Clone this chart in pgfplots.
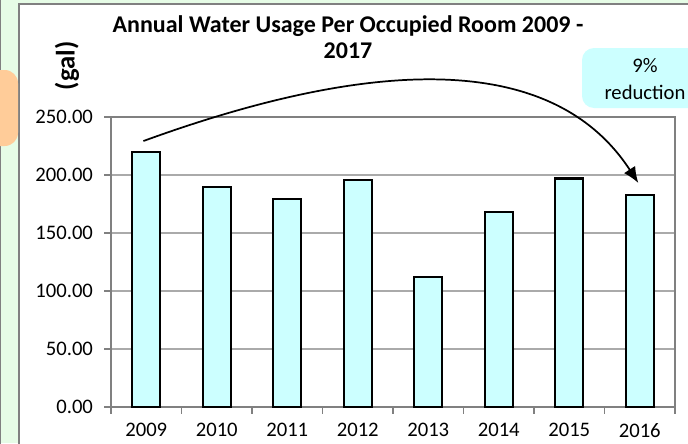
\documentclass[border=0pt]{standalone}
\usepackage{pgfplots}
\pgfplotsset{compat=1.18}
\usepackage{fontspec}
\setmainfont{Carlito}
\usetikzlibrary{arrows.meta}
\definecolor{bgGreen}{RGB}{230,252,230}
\definecolor{barCyan}{RGB}{204,255,255}
\definecolor{boxOrange}{RGB}{255,204,153}
\definecolor{frameGray}{RGB}{128,128,128}
\definecolor{gridGray}{RGB}{170,170,170}
\pgfplotstableread{
x year value
0 2009 220
1 2010 190
2 2011 179
3 2012 196
4 2013 112
5 2014 168
6 2015 197
7 2016 183
}\usagedata
\begin{document}
\begin{tikzpicture}
\useasboundingbox (0,0) rectangle (516pt,-332.25pt);
\clip (0,0) rectangle (516pt,-332.25pt);
\begin{scope}[x=0.75pt,y=-0.75pt]
  \fill[bgGreen] (0,0) rectangle (688,443);
  \draw[frameGray, line width=0.8pt] (0.5,-5) -- (0.5,450);
  \fill[white] (19,4) rectangle (700,450);
  \draw[frameGray, line width=1.2pt] (19,450) -- (19,4) -- (700,4);
  \fill[boxOrange, rounded corners=10pt] (-20,70) rectangle (18,146);
  \node[font=\fontsize{18}{19.5}\selectfont\bfseries, align=center] at (348,37) {Annual Water Usage Per Occupied Room 2009 -\\2017};
  \node[font=\fontsize{20}{22}\selectfont\bfseries, rotate=90] at (67,66) {(gal)};
  \fill[barCyan, rounded corners=9pt] (582,48) rectangle (710,108);
  \node[font=\fontsize{15.5}{20}\selectfont, align=center] at (645,79) {9\%\\reduction};
\end{scope}
\begin{axis}[
  at={(83.25pt,-305.25pt)}, anchor=south west,
  scale only axis, width=423pt, height=217.5pt,
  xmin=-0.5, xmax=7.5, ymin=0, ymax=250,
  ytick={0,50,...,250},
  xtick={0,...,7},
  xticklabels={2009,2010,2011,2012,2013,2014,2015,2016},
  minor xtick={-0.5,0.5,...,7.5},
  tick align=outside,
  major tick length=5pt,
  minor tick length=5pt,
  x tick style={draw=none},
  minor x tick style={draw=frameGray, line width=0.8pt},
  y tick style={draw=frameGray, line width=0.8pt},
  ymajorgrids, grid style={gridGray, line width=0.8pt},
  axis line style={frameGray, line width=1pt},
  axis x line*=bottom, axis y line*=left,
  tick label style={font=\fontsize{15.5}{18}\selectfont},
  /pgf/number format/assume math mode=true,
  yticklabel style={xshift=-5pt, /pgf/number format/.cd, fixed, fixed zerofill, precision=2},
  xticklabel style={yshift=-3.5pt},
  clip=false,
]
\draw[frameGray, line width=1pt] (axis cs:-0.5,250) -- (axis cs:7.5,250) -- (axis cs:7.5,0);
\addplot[ybar, bar width=21pt, fill=barCyan, draw=black, line width=1.6pt] table[x=x,y=value] {\usagedata};
\draw[line width=1.3pt, -{Latex[length=12pt,width=10pt]}] (axis cs:-0.04,229.3) .. controls (axis cs:2.49,285.3) and (axis cs:5.59,323.3) .. (axis cs:6.98,193.1);
\end{axis}
\end{tikzpicture}
\end{document}
